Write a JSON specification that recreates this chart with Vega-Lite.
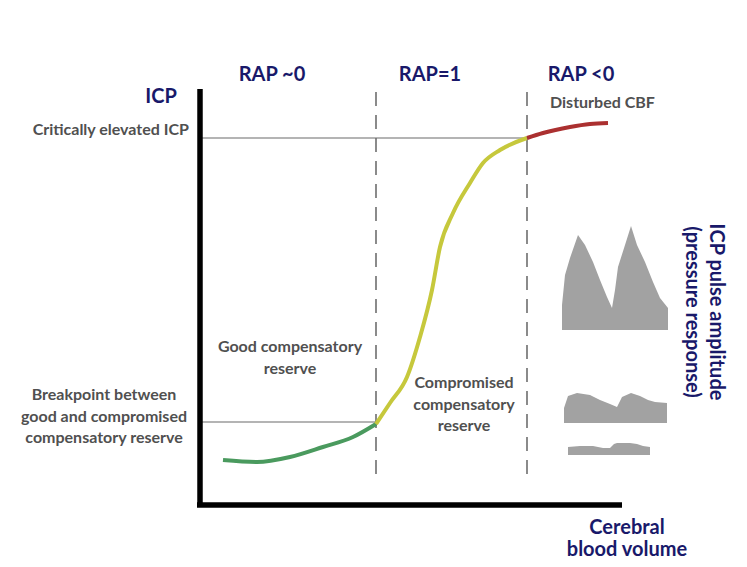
{
  "$schema": "https://vega.github.io/schema/vega-lite/v6.json",
  "width": 747,
  "height": 567,
  "padding": 0,
  "autosize": {"type": "none"},
  "background": "white",
  "config": {"view": {"stroke": null}},
  "datasets": {
    "axes": [
      {"x": 0, "y": 416, "x2": 0, "y2": -2},
      {"x": -3, "y": 0, "x2": 422, "y2": 0}
    ],
    "guides": [
      {"x": 0, "y": 367, "x2": 327, "y2": 367},
      {"x": 0, "y": 83, "x2": 176, "y2": 83}
    ],
    "dashes": [
      {"x": 176, "y": 413, "x2": 176, "y2": 25},
      {"x": 327, "y": 413, "x2": 327, "y2": 25}
    ],
    "curve": [
      {"seg": "good", "o": 1, "x": 23, "y": 45},
      {"seg": "good", "o": 2, "x": 57, "y": 43},
      {"seg": "good", "o": 3, "x": 90, "y": 48},
      {"seg": "good", "o": 4, "x": 123, "y": 58},
      {"seg": "good", "o": 5, "x": 153, "y": 68},
      {"seg": "good", "o": 6, "x": 176, "y": 81},
      {"seg": "compromised", "o": 1, "x": 176, "y": 81},
      {"seg": "compromised", "o": 2, "x": 190, "y": 102},
      {"seg": "compromised", "o": 3, "x": 207, "y": 128},
      {"seg": "compromised", "o": 4, "x": 220, "y": 168},
      {"seg": "compromised", "o": 5, "x": 232, "y": 215},
      {"seg": "compromised", "o": 6, "x": 240, "y": 258},
      {"seg": "compromised", "o": 7, "x": 253, "y": 292},
      {"seg": "compromised", "o": 8, "x": 270, "y": 322},
      {"seg": "compromised", "o": 9, "x": 283, "y": 342},
      {"seg": "compromised", "o": 10, "x": 300, "y": 355},
      {"seg": "compromised", "o": 11, "x": 327, "y": 367},
      {"seg": "disturbed", "o": 1, "x": 327, "y": 367},
      {"seg": "disturbed", "o": 2, "x": 343, "y": 372},
      {"seg": "disturbed", "o": 3, "x": 370, "y": 378},
      {"seg": "disturbed", "o": 4, "x": 390, "y": 381},
      {"seg": "disturbed", "o": 5, "x": 408, "y": 382}
    ],
    "waves": [
      {"wave": "high", "x": 362, "y": 200, "base": 175},
      {"wave": "high", "x": 365, "y": 230, "base": 175},
      {"wave": "high", "x": 370, "y": 247, "base": 175},
      {"wave": "high", "x": 378, "y": 270, "base": 175},
      {"wave": "high", "x": 385, "y": 260, "base": 175},
      {"wave": "high", "x": 393, "y": 243, "base": 175},
      {"wave": "high", "x": 400, "y": 225, "base": 175},
      {"wave": "high", "x": 407, "y": 208, "base": 175},
      {"wave": "high", "x": 412, "y": 197, "base": 175},
      {"wave": "high", "x": 415, "y": 215, "base": 175},
      {"wave": "high", "x": 418, "y": 238, "base": 175},
      {"wave": "high", "x": 425, "y": 260, "base": 175},
      {"wave": "high", "x": 431, "y": 279, "base": 175},
      {"wave": "high", "x": 437, "y": 260, "base": 175},
      {"wave": "high", "x": 445, "y": 243, "base": 175},
      {"wave": "high", "x": 453, "y": 223, "base": 175},
      {"wave": "high", "x": 460, "y": 207, "base": 175},
      {"wave": "high", "x": 468, "y": 197, "base": 175},
      {"wave": "mid", "x": 364, "y": 97, "base": 82},
      {"wave": "mid", "x": 368, "y": 109, "base": 82},
      {"wave": "mid", "x": 377, "y": 112, "base": 82},
      {"wave": "mid", "x": 390, "y": 110, "base": 82},
      {"wave": "mid", "x": 400, "y": 105, "base": 82},
      {"wave": "mid", "x": 410, "y": 101, "base": 82},
      {"wave": "mid", "x": 417, "y": 98, "base": 82},
      {"wave": "mid", "x": 422, "y": 108, "base": 82},
      {"wave": "mid", "x": 431, "y": 112, "base": 82},
      {"wave": "mid", "x": 440, "y": 109, "base": 82},
      {"wave": "mid", "x": 448, "y": 105, "base": 82},
      {"wave": "mid", "x": 455, "y": 103, "base": 82},
      {"wave": "mid", "x": 467, "y": 102, "base": 82},
      {"wave": "low", "x": 368, "y": 58, "base": 50},
      {"wave": "low", "x": 380, "y": 59, "base": 50},
      {"wave": "low", "x": 393, "y": 59, "base": 50},
      {"wave": "low", "x": 403, "y": 57, "base": 50},
      {"wave": "low", "x": 410, "y": 57, "base": 50},
      {"wave": "low", "x": 414, "y": 61, "base": 50},
      {"wave": "low", "x": 417, "y": 62, "base": 50},
      {"wave": "low", "x": 430, "y": 62, "base": 50},
      {"wave": "low", "x": 437, "y": 61, "base": 50},
      {"wave": "low", "x": 443, "y": 59, "base": 50},
      {"wave": "low", "x": 450, "y": 58, "base": 50}
    ],
    "navy": [
      {"x": -39, "y": 408, "label": "ICP"},
      {"x": 72, "y": 430, "label": "RAP ~0"},
      {"x": 230, "y": 430, "label": "RAP=1"},
      {"x": 381, "y": 430, "label": "RAP <0"},
      {"x": 427, "y": -23, "label": "Cerebral\nblood volume"}
    ],
    "navyRot": [
      {"x": 516, "y": 193, "label": "ICP pulse amplitude\n(pressure response)"}
    ],
    "grayCenter": [
      {"x": 90, "y": 158, "label": "Good compensatory\nreserve"},
      {"x": 264, "y": 122, "label": "Compromised\ncompensatory\nreserve"},
      {"x": -96, "y": 110, "label": "Breakpoint between\ngood and compromised\ncompensatory reserve"}
    ],
    "grayRight": [
      {"x": -11, "y": 375, "label": "Critically elevated ICP"}
    ],
    "grayLeft": [
      {"x": 350, "y": 402, "label": "Disturbed CBF"}
    ]
  },
  "encoding": {
    "x": {"field": "x", "type": "quantitative", "scale": {"domain": [-200, 547], "nice": false, "zero": false}, "axis": null},
    "y": {"field": "y", "type": "quantitative", "scale": {"domain": [-62, 505], "nice": false, "zero": false}, "axis": null}
  },
  "layer": [
    {
      "data": {"name": "guides"},
      "mark": {"type": "rule", "color": "#b4b4b4", "strokeWidth": 1.8},
      "encoding": {"x2": {"field": "x2"}, "y2": {"field": "y2"}}
    },
    {
      "data": {"name": "dashes"},
      "mark": {"type": "rule", "color": "#6e6e6e", "strokeWidth": 1.6, "strokeDash": [14, 9]},
      "encoding": {"x2": {"field": "x2"}, "y2": {"field": "y2"}}
    },
    {
      "data": {"name": "axes"},
      "mark": {"type": "rule", "color": "#000000", "strokeWidth": 5.5},
      "encoding": {"x2": {"field": "x2"}, "y2": {"field": "y2"}}
    },
    {
      "data": {"name": "waves"},
      "mark": {"type": "area", "color": "#a2a2a2", "opacity": 1, "interpolate": "linear"},
      "encoding": {"y2": {"field": "base"}, "detail": {"field": "wave"}}
    },
    {
      "data": {"name": "curve"},
      "mark": {"type": "line", "strokeWidth": 4, "interpolate": "monotone", "strokeCap": "butt"},
      "encoding": {
        "color": {"field": "seg", "type": "nominal", "scale": {"domain": ["good", "compromised", "disturbed"], "range": ["#4a9a5e", "#c6c83c", "#ab3030"]}, "legend": null},
        "order": {"field": "o", "type": "quantitative"}
      }
    },
    {
      "data": {"name": "navy"},
      "mark": {"type": "text", "font": "Lato", "fontWeight": "bold", "fontSize": 20, "color": "#19196a", "align": "center", "baseline": "middle", "lineBreak": "\n", "lineHeight": 22},
      "encoding": {"text": {"field": "label"}}
    },
    {
      "data": {"name": "navyRot"},
      "mark": {"type": "text", "font": "Lato", "fontWeight": "bold", "fontSize": 20, "color": "#19196a", "align": "center", "baseline": "middle", "angle": 90, "lineBreak": "\n", "lineHeight": 24},
      "encoding": {"text": {"field": "label"}}
    },
    {
      "data": {"name": "grayCenter"},
      "mark": {"type": "text", "font": "Lato", "fontWeight": "bold", "fontSize": 16, "color": "#505050", "align": "center", "baseline": "middle", "lineBreak": "\n", "lineHeight": 21.5},
      "encoding": {"text": {"field": "label"}}
    },
    {
      "data": {"name": "grayRight"},
      "mark": {"type": "text", "font": "Lato", "fontWeight": "bold", "fontSize": 16, "color": "#505050", "align": "right", "baseline": "middle"},
      "encoding": {"text": {"field": "label"}}
    },
    {
      "data": {"name": "grayLeft"},
      "mark": {"type": "text", "font": "Lato", "fontWeight": "bold", "fontSize": 16, "color": "#505050", "align": "left", "baseline": "middle"},
      "encoding": {"text": {"field": "label"}}
    }
  ]
}
